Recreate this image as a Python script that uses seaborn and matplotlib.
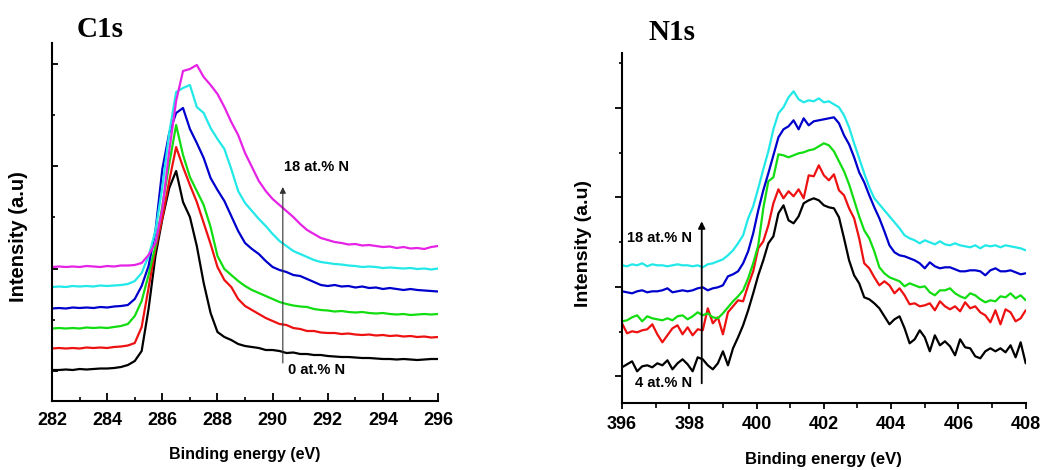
import numpy as np
import pandas as pd
import matplotlib
matplotlib.use("Agg")
import matplotlib.pyplot as plt
import seaborn as sns
from matplotlib.ticker import FixedLocator

# ---------------- C1s data (binding energy in eV, intensity in a.u.) ----------------
c1s_energy = [282.0, 282.25, 282.5, 282.75, 283.0, 283.25, 283.5, 283.75, 284.0, 284.25,
              284.5, 284.75, 285.0, 285.25, 285.5, 285.75, 286.0, 286.25, 286.5, 286.75,
              287.0, 287.25, 287.5, 287.75, 288.0, 288.25, 288.5, 288.75, 289.0, 289.25,
              289.5, 289.75, 290.0, 290.25, 290.5, 290.75, 291.0, 291.25, 291.5, 291.75,
              292.0, 292.25, 292.5, 292.75, 293.0, 293.25, 293.5, 293.75, 294.0, 294.25,
              294.5, 294.75, 295.0, 295.25, 295.5, 295.75, 296.0]

c1s_black = [31, 31, 31.5, 31, 32, 31.5, 32, 32.5, 32.5, 33,
             34, 36, 40, 50, 92, 145, 182, 213, 230, 199,
             184, 155, 118, 88, 69, 64, 61, 57, 55, 54,
             53, 51, 51, 50, 48, 48.5, 47, 47, 46, 46,
             45, 44.5, 44, 44, 43.5, 43, 43, 42.5, 42, 42,
             41.5, 42, 41.5, 41, 41.5, 42, 42]
c1s_red = [52.5, 53, 52.5, 53, 52.5, 53.5, 53, 53.5, 53, 54,
           54.5, 55.5, 58, 74, 113, 152, 183, 220, 254, 234,
           216, 199, 178, 157, 134, 121, 114, 102, 95, 91,
           87, 83, 80, 77, 76, 73, 72, 70, 70, 68.5,
           68, 68, 67, 67.5, 66.5, 66, 66.5, 65.5, 66, 65,
           65.5, 64.5, 65, 64, 64.5, 63.5, 64]
c1s_green = [72.5, 73, 72.5, 73, 72.5, 73.5, 73, 73.5, 73, 74,
             75, 77, 85, 100, 126, 155, 195, 237, 276, 246,
             224, 210, 196, 174, 145, 132, 126, 120, 115, 111,
             108, 105, 102, 99, 97, 95.5, 94.5, 94, 92, 91,
             90.5, 89.5, 90, 89, 88.5, 89, 88, 87.5, 88, 87,
             86.5, 87, 86, 86.5, 87, 86.5, 87]
c1s_blue = [92.5, 93, 92.5, 93.5, 93, 93.5, 93, 94, 93.5, 94.5,
            95, 96, 102, 115, 135, 170, 232, 268, 288, 293,
            272, 258, 243, 223, 211, 200, 185, 170, 158, 152,
            147, 140, 134, 131, 129, 126, 125, 122, 119, 116,
            115, 116, 114.5, 115, 113.5, 114.5, 113, 113.5, 112, 113,
            112, 111, 112, 111, 110.5, 110, 109.5]
c1s_cyan = [114, 114.5, 114, 115, 114.5, 115, 114.5, 115.5, 115, 115.5,
            116, 117, 120, 128, 145, 170, 214, 268, 309, 313,
            316, 294, 288, 273, 262, 252, 232, 210, 198, 190,
            182, 175, 167, 160, 155, 150, 147, 144, 141, 139,
            138, 137, 136.5, 135.5, 135, 134, 134.5, 134, 133, 133.5,
            133, 132.5, 133, 132, 132.5, 131.5, 132.5]
c1s_magenta = [134, 134.5, 134, 134.5, 134, 135, 134.5, 134, 135, 134.5,
               135.5, 135.5, 136, 138, 146, 158, 192, 250, 300, 330,
               332, 336, 324, 316, 307, 294, 279, 266, 248, 234,
               220, 210, 202, 196, 190, 184, 177, 171, 167, 163,
               161, 159, 158, 156.5, 157, 155.5, 156, 155, 154, 154.5,
               153, 154, 152.5, 153, 152, 154, 155]

c1s_samples = ["0 at.% N", "c1s-2", "c1s-3", "c1s-4", "c1s-5", "18 at.% N"]
c1s_colors = ["#000000", "#ee1111", "#11dd11", "#0000cc", "#22e8e8", "#e622e6"]

# ---------------- N1s data ----------------
n1s_energy = [396.0, 396.15, 396.3, 396.45, 396.6, 396.75, 396.9, 397.05, 397.2, 397.35,
              397.5, 397.65, 397.8, 397.95, 398.1, 398.25, 398.4, 398.55, 398.7, 398.85,
              399.0, 399.15, 399.3, 399.45, 399.6, 399.75, 399.9, 400.05, 400.2, 400.35,
              400.5, 400.65, 400.8, 400.95, 401.1, 401.25, 401.4, 401.55, 401.7, 401.85,
              402.0, 402.15, 402.3, 402.45, 402.6, 402.75, 402.9, 403.05, 403.2, 403.35,
              403.5, 403.65, 403.8, 403.95, 404.1, 404.25, 404.4, 404.55, 404.7, 404.85,
              405.0, 405.15, 405.3, 405.45, 405.6, 405.75, 405.9, 406.05, 406.2, 406.35,
              406.5, 406.65, 406.8, 406.95, 407.1, 407.25, 407.4, 407.55, 407.7, 407.85,
              408.0]

n1s_black = [36, 39, 42, 32, 37, 38, 36, 40, 38, 43,
             34, 40, 44, 39, 32, 46, 44, 38, 34, 40,
             52, 38, 55, 66, 78, 93, 110, 128, 143, 160,
             167, 190, 198, 183, 180, 187, 200, 203, 205, 203,
             198, 196, 195, 186, 165, 143, 128, 120, 106, 104,
             100, 95, 87, 79, 84, 87, 75, 60, 64, 73,
             66, 52, 68, 58, 62, 57, 48, 64, 56, 55,
             47, 45, 52, 55, 52, 55, 51, 58, 46, 61,
             40]
n1s_red = [80, 70, 72, 71, 73, 74, 79, 69, 61, 68,
           75, 78, 69, 76, 68, 74, 73, 95, 80, 86,
           69, 91, 97, 103, 102, 118, 132, 155, 162, 178,
           200, 214, 205, 212, 207, 214, 205, 228, 227, 238,
           228, 223, 229, 213, 208, 195, 185, 165, 140, 135,
           126, 118, 122, 118, 110, 115, 108, 99, 100, 97,
           98, 100, 93, 102, 97, 94, 97, 92, 101, 95,
           97, 91, 88, 81, 93, 79, 94, 91, 82, 85,
           93]
n1s_green = [82, 83, 86, 88, 82, 87, 85, 84, 83, 85,
             83, 87, 88, 84, 87, 91, 88, 90, 86, 85,
             90, 96, 102, 107, 113, 125, 140, 158, 195, 222,
             226, 249, 248, 246, 248, 250, 251, 253, 254, 257,
             260, 258, 252, 242, 232, 219, 203, 187, 173, 165,
             152, 136, 130, 126, 124, 122, 117, 120, 118, 116,
             117, 111, 108, 113, 113, 115, 110, 107, 105, 110,
             108, 104, 101, 103, 102, 107, 106, 110, 105, 108,
             103]
n1s_blue = [112, 111, 110, 112, 113, 111, 112, 112, 113, 115,
            111, 112, 113, 112, 113, 115, 116, 113, 115, 116,
            118, 127, 129, 132, 140, 152, 170, 193, 213, 230,
            248, 266, 274, 277, 283, 274, 285, 278, 282, 283,
            284, 285, 286, 280, 268, 259, 246, 231, 221, 208,
            196, 185, 172, 158, 151, 148, 147, 145, 143, 140,
            135, 141, 137, 135, 136, 136, 134, 132, 132, 133,
            133, 132, 128, 133, 135, 132, 132, 133, 131, 129,
            130]
n1s_cyan = [138, 137, 139, 138, 140, 137, 139, 138, 138, 137,
            138, 139, 138, 138, 137, 138, 136, 139, 140, 142,
            144, 148, 153, 160, 168, 185, 197, 215, 234, 252,
            274, 290, 296, 306, 312, 304, 301, 303, 302, 305,
            301, 302, 299, 296, 288, 276, 260, 245, 230, 216,
            205, 199, 193, 187, 181, 175, 168, 165, 163, 160,
            163, 161, 159, 162, 159, 158, 160, 158, 157, 156,
            158, 155, 158, 157, 158, 156, 158, 157, 156, 155,
            153]

n1s_samples = ["4 at.% N", "n1s-2", "n1s-3", "n1s-4", "18 at.% N"]
n1s_colors = ["#000000", "#ee1111", "#11dd11", "#0000cc", "#22e8e8"]

c1s_df = pd.DataFrame({
    "energy": c1s_energy * 6,
    "intensity": c1s_black + c1s_red + c1s_green + c1s_blue + c1s_cyan + c1s_magenta,
    "sample": [s for s in c1s_samples for _ in c1s_energy],
})
n1s_df = pd.DataFrame({
    "energy": n1s_energy * 5,
    "intensity": n1s_black + n1s_red + n1s_green + n1s_blue + n1s_cyan,
    "sample": [s for s in n1s_samples for _ in n1s_energy],
})

# ---------------- styling ----------------
sns.set_style("ticks")
plt.rcParams["font.family"] = ["Liberation Sans", "DejaVu Sans"]
plt.rcParams["font.weight"] = "bold"
plt.rcParams["axes.labelweight"] = "bold"
for key in ("text.color", "axes.labelcolor", "xtick.color", "ytick.color",
            "axes.edgecolor"):
    plt.rcParams[key] = "black"

fig = plt.figure(figsize=(10.41, 4.70), dpi=100)
ax1 = fig.add_axes([0.0500, 0.1468, 0.3708, 0.7617])
ax2 = fig.add_axes([0.5975, 0.1419, 0.3878, 0.7453])

sns.lineplot(data=c1s_df, x="energy", y="intensity", hue="sample",
             hue_order=c1s_samples, palette=c1s_colors, estimator=None,
             sort=False, legend=False, linewidth=1.6, ax=ax1)
sns.lineplot(data=n1s_df, x="energy", y="intensity", hue="sample",
             hue_order=n1s_samples, palette=n1s_colors, estimator=None,
             sort=False, legend=False, linewidth=1.6, ax=ax2)

for ax in (ax1, ax2):
    for side in ("top", "right"):
        ax.spines[side].set_visible(False)
    for side in ("left", "bottom"):
        ax.spines[side].set_linewidth(1.5)
        ax.spines[side].set_color("black")

# C1s axes
ax1.set_xlim(282, 296)
ax1.set_ylim(0, 358)
ax1.xaxis.set_major_locator(FixedLocator([282, 284, 286, 288, 290, 292, 294, 296]))
ax1.xaxis.set_minor_locator(FixedLocator([283, 285, 287, 289, 291, 293, 295]))
ax1.yaxis.set_major_locator(FixedLocator([30, 132.5, 235, 337.5]))
ax1.yaxis.set_minor_locator(FixedLocator([81, 184, 286]))
ax1.tick_params(axis="x", which="major", direction="in", length=6, width=1.3,
                labelsize=13, pad=8)
ax1.tick_params(axis="x", which="minor", direction="in", length=3, width=1.2)
ax1.tick_params(axis="y", which="major", direction="in", length=4.5, width=1.3,
                labelleft=False)
ax1.tick_params(axis="y", which="minor", direction="in", length=2.5, width=1.2)
ax1.set_xlabel("Binding energy (eV)", fontsize=11.5)
ax1.set_ylabel("Intensity (a.u)", fontsize=14.5)
ax1.xaxis.set_label_coords(0.5, -0.128)
ax1.yaxis.set_label_coords(-0.063, 0.46)

# N1s axes
ax2.set_xlim(396, 408)
ax2.set_ylim(0, 350.3)
ax2.xaxis.set_major_locator(FixedLocator([396, 398, 400, 402, 404, 406, 408]))
ax2.xaxis.set_minor_locator(FixedLocator([397, 399, 401, 403, 405, 407]))
ax2.yaxis.set_major_locator(FixedLocator([27.3, 116.6, 206, 295.6]))
ax2.yaxis.set_minor_locator(FixedLocator([71.6, 161.3, 250.6, 340.3]))
ax2.tick_params(axis="x", which="major", direction="out", length=4, width=1.3,
                labelsize=13, pad=5)
ax2.tick_params(axis="x", which="minor", direction="out", length=3.5, width=1.2)
ax2.tick_params(axis="y", which="major", direction="out", length=5, width=1.3,
                labelleft=False)
ax2.tick_params(axis="y", which="minor", direction="out", length=2.5, width=1.2)
ax2.set_xlabel("Binding energy (eV)", fontsize=12)
ax2.set_ylabel("Intensity (a.u)", fontsize=14)
ax2.xaxis.set_label_coords(0.5, -0.139)
ax2.yaxis.set_label_coords(-0.074, 0.455)

# annotations: composition arrows
ax1.annotate("", xy=(290.37, 214), xytext=(290.37, 38),
             arrowprops=dict(arrowstyle="-|>", color="#333333", lw=0.8,
                             mutation_scale=9, shrinkA=0, shrinkB=0))
ax1.text(290.4, 234, "18 at.% N", fontsize=10.5, ha="left", va="center")
ax1.text(290.55, 31, "0 at.% N", fontsize=10.5, ha="left", va="center")

ax2.annotate("", xy=(398.37, 182), xytext=(398.37, 20),
             arrowprops=dict(arrowstyle="-|>", color="black", lw=1.3,
                             mutation_scale=10, shrinkA=0, shrinkB=0))
ax2.text(398.08, 165, "18 at.% N", fontsize=10.5, ha="right", va="center")
ax2.text(398.08, 20, "4 at.% N", fontsize=10.5, ha="right", va="center")

# panel titles
fig.text(0.096, 0.938, "C1s", fontsize=21, fontweight="bold", ha="center",
         va="center", family=["Liberation Serif", "DejaVu Serif"])
fig.text(0.6455, 0.930, "N1s", fontsize=21, fontweight="bold", ha="center",
         va="center", family=["Liberation Serif", "DejaVu Serif"])

fig.savefig("out.png", dpi=100)
